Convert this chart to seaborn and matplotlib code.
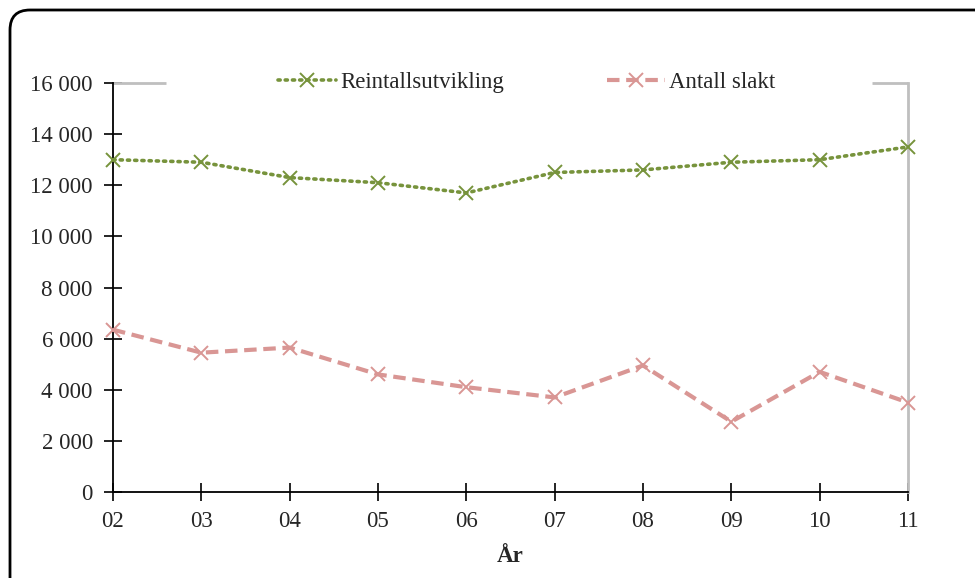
import matplotlib
matplotlib.use("Agg")
import matplotlib.pyplot as plt
import matplotlib.ticker as mticker
from matplotlib.patches import FancyBboxPatch
import seaborn as sns
import pandas as pd

years = ["02", "03", "04", "05", "06", "07", "08", "09", "10", "11"]
reintall = [13000, 12900, 12300, 12100, 11700, 12500, 12600, 12900, 13000, 13500]
slakt = [6350, 5450, 5650, 4600, 4100, 3700, 4950, 2750, 4700, 3500]

sns.set_style("white")
plt.rcParams["font.family"] = ["Liberation Serif", "DejaVu Serif"]

df = pd.DataFrame({"År": years, "Reintallsutvikling": reintall, "Antall slakt": slakt})
df["pos"] = range(len(years))

fig = plt.figure(figsize=(9.75, 5.78), dpi=100)
ax = fig.add_axes([113 / 975, 1 - 492 / 578, 795 / 975, 409 / 578])

green = "#77933C"
pink = "#D99694"

sns.lineplot(data=df, x="pos", y="Reintallsutvikling", ax=ax, color=green,
             linestyle=(0, (0.6, 1.4)), linewidth=2.6, marker="x", markersize=10,
             markeredgewidth=1.4, markeredgecolor=green, dash_capstyle="round",
             clip_on=False, zorder=3, label="Reintallsutvikling")
sns.lineplot(data=df, x="pos", y="Antall slakt", ax=ax, color=pink,
             linestyle=(0, (3, 1.6)), linewidth=3, marker="x", markersize=10,
             markeredgewidth=1.4, markeredgecolor=pink, clip_on=False, zorder=3,
             label="Antall slakt")

ax.set_xlim(0, len(years) - 1)
ax.set_ylim(0, 16000)
ax.set_xticks(range(len(years)))
ax.set_xticklabels(years)
ax.yaxis.set_major_locator(mticker.MultipleLocator(2000))
ax.yaxis.set_major_formatter(mticker.FuncFormatter(lambda v, p: f"{int(v):,}".replace(",", " ")))
ax.tick_params(axis="both", direction="inout", length=13, width=1.2, color="black",
               labelsize=16.5, bottom=True, left=True)
ax.tick_params(axis="x", pad=7)
ax.tick_params(axis="y", pad=8)

ax.set_xlabel("År", fontsize=16.5, fontweight="bold", labelpad=10)
ax.set_ylabel("")

for s in ["left", "bottom"]:
    ax.spines[s].set_color("black")
    ax.spines[s].set_linewidth(1.3)
ax.spines["right"].set_color("#BFBFBF")
ax.spines["right"].set_linewidth(2)
ax.spines["top"].set_visible(False)
# top frame is broken by the legend box
for x0, x1 in [(0, 0.0667), (0.9547, 1)]:
    ax.plot([x0, x1], [1, 1], transform=ax.transAxes, color="#BFBFBF",
            linewidth=2, clip_on=False, solid_capstyle="butt")

leg = ax.legend(loc="center", bbox_to_anchor=(0.52, 1.002), ncol=2, fontsize=16.5,
                frameon=False, handlelength=2.55, columnspacing=4.5,
                handletextpad=0.15, borderpad=0.2, borderaxespad=0)

border = FancyBboxPatch((0.1, -0.2), 9.85, 5.88,
                        boxstyle="round,pad=0,rounding_size=0.2",
                        transform=fig.dpi_scale_trans, fill=False, edgecolor="black",
                        linewidth=2)
fig.patches.append(border)

fig.savefig("out.png", dpi=100)
